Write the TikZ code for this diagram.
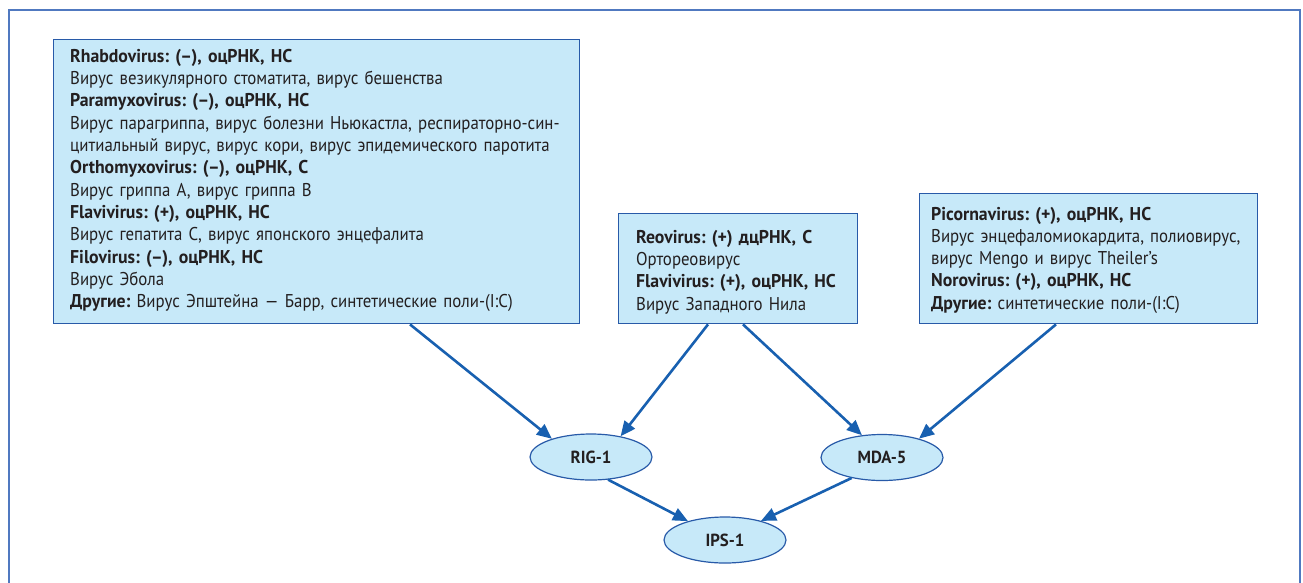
\documentclass[tikz,border=0pt]{standalone}
\usepackage{fontspec}
\setmainfont{PT Sans}[FakeStretch=0.91, BoldFeatures={FakeStretch=0.96}]
\usetikzlibrary{shapes.geometric,arrows.meta}
\definecolor{boxfill}{RGB}{199,233,249}
\definecolor{boxline}{RGB}{40,90,168}
\definecolor{arrowc}{RGB}{24,96,176}
\definecolor{framec}{RGB}{80,121,192}
\definecolor{txt}{RGB}{35,31,32}
\tikzset{
  vbox/.style={draw=boxline, fill=boxfill, line width=1.4pt, inner sep=0pt, anchor=north west},
  vtext/.style={anchor=base west, inner sep=0pt, align=left, text width=#1, text=txt,
    font=\frenchspacing\fontsize{18.5}{22.3}\selectfont},
  rec/.style={ellipse, draw=boxline, fill=boxfill, line width=1.2pt, minimum width=122pt,
    minimum height=46pt, inner sep=0pt, text=txt, font=\bfseries\fontsize{17.5}{20}\selectfont},
  arr/.style={draw=arrowc, line width=2.6pt, -{Triangle[length=15pt,width=13pt]}}
}
\begin{document}
\begin{tikzpicture}[x=1pt,y=-1pt]
\path[use as bounding box] (0,0) rectangle (1303,582);
\begin{scope}
\clip (0,0) rectangle (1303,582);
\draw[framec, line width=2pt] (8.5,9.5) rectangle (1299.5,620);
\end{scope}

\node[vbox, minimum width=526pt, minimum height=284pt] (b1) at (53,39) {};
\node[vbox, minimum width=239pt, minimum height=110pt] (b2) at (618,213) {};
\node[vbox, minimum width=338pt, minimum height=130pt] (b3) at (919,193) {};

\node[vtext=560pt] (t1) at (70,62.3) {\textbf{Rhabdovirus: (–), оцРНК, НС}\\
Вирус везикулярного стоматита, вирус бешенства\\
\textbf{Paramyxovirus: (–), оцРНК, НС}\\
Вирус парагриппа, вирус болезни Ньюкастла, респираторно-син-\\
цитиальный вирус, вирус кори, вирус эпидемического паротита\\
\textbf{Orthomyxovirus: (–), оцРНК, С}\\
Вирус гриппа А, вирус гриппа В\\
\textbf{Flavivirus: (+), оцРНК, НС}\\
Вирус гепатита С, вирус японского энцефалита\\
\textbf{Filovirus: (–), оцРНК, НС}\\
Вирус Эбола\\
\textbf{Другие:} Вирус Эпштейна — Барр, синтетические поли-(I:С)};

\node[vtext=260pt] (t2) at (636,243.3) {\textbf{Reovirus: (+) дцРНК, С}\\
Ортореовирус\\
\textbf{Flavivirus: (+), оцРНК, НС}\\
Вирус Западного Нила};

\node[vtext=360pt] (t3) at (931,220) {\textbf{Picornavirus: (+), оцРНК, НС}\\
Вирус энцефаломиокардита, полиовирус,\\
вирус Mengo и вирус Theiler’s\\
\textbf{Norovirus: (+), оцРНК, НС}\\
\textbf{Другие:} синтетические поли-(I:С)};

\node[rec] (rig) at (591,457) {RIG-1};
\node[rec] (mda) at (882,457.5) {MDA-5};
\node[rec] (ips) at (725,540) {IPS-1};

\draw[arr] ([xshift=357pt]b1.south west) -- (rig.155);
\draw[arr] ([xshift=90pt]b2.south west) -- (rig.35);
\draw[arr] ([xshift=125pt]b2.south west) -- (mda.132);
\draw[arr] ([xshift=137pt]b3.south west) -- (mda.27);
\draw[arr] (rig.-53) -- (ips.153);
\draw[arr] (mda.-146) -- (ips.28);
\end{tikzpicture}
\end{document}
